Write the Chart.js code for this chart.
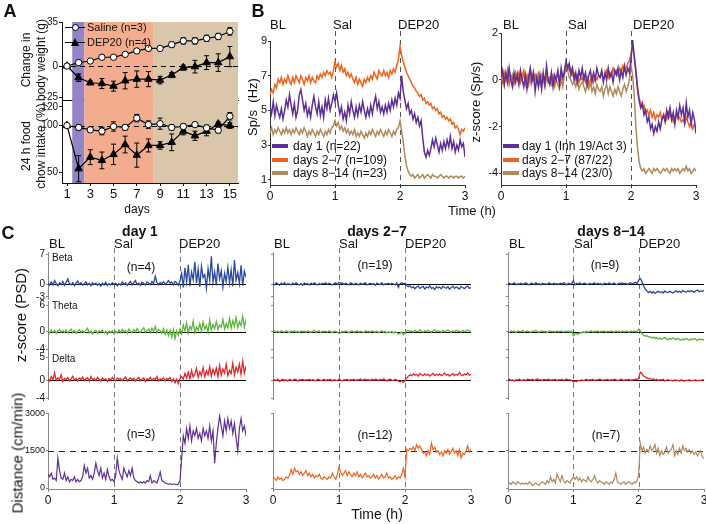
<!DOCTYPE html>
<html><head><meta charset="utf-8">
<script src="https://cdn.jsdelivr.net/npm/chart.js@4.4.1/dist/chart.umd.min.js"></script>
<style>
html,body{margin:0;padding:0;background:#fff;}
#fig{position:relative;width:706px;height:524px;overflow:hidden;font-family:'Liberation Sans',Arial,sans-serif;color:#111;}
#fig canvas{position:absolute;left:0;top:0;}
.t{position:absolute;white-space:pre;line-height:1;}
.sw{position:absolute;}
</style></head><body><div id="fig"></div>
<script>
// ===================== DATA =====================
// Panel A
const days = [1,2,3,4,5,6,7,8,9,10,11,12,13,14,15];
const salineBW    = [0,2.7,4,7,7,9.3,12,14,14,17,20,20,22,23.5,27.5];
const salineBWErr = [0,1,1,1,1,1,1.5,1.5,1.5,2,2.5,2.5,2.5,2.5,3];
const depBW       = [0,-9.3,-13.3,-13.9,-16,-11.7,-10.4,-10.4,-11.2,-7.2,-1.3,-0.5,2.7,2.7,7.5];
const depBWErr    = [0,3,1.5,4,4,6.5,6.5,6,3,2,2,5,5.5,7,8];
const salineFood    = [100,98,95.4,94,99,98,108,101,102,98,99,101,97.5,95,110];
const salineFoodErr = [0,3,2,4,5,3,4,4,6,3,3,2,3,3,4];
const depFood       = [100,53.6,66,62.5,69,79.6,68.2,78.6,78.6,82,94,89,94,101.8,100];
const depFoodErr    = [0,14,8,9,11,9,13,7,4,9,4,5,5,2,3];
const phaseFrom   = [1.45, 2.5, 8.4];
const phaseTo     = [2.5, 8.4, 15.7];
const phaseColors = ['#9484c6','#f4ac8e','#d9c6ab'];
const aTopTicks = [-25,0,35];
const aBotTicks = [50,100,120];
const aDayTicks = [1,3,5,7,9,11,13,15];

// Time grid (hours) shared by traces: one sample every 1.5 min
const STEP = 0.025;
const hourTicks = [0,1,2,3];
const eventTimes = [1,2];
const eventNames = ['BL','Sal','DEP20'];

// Panel B left: firing rate (Hz)
const bRateDay1 = [5.2,4.8,5.5,4.7,5.3,4.9,4.6,5.1,4.5,5.0,
 5.6,5.2,5.9,5.3,4.8,5.4,4.6,5.0,5.9,6.2,
 5.6,5.0,5.4,4.7,5.1,4.6,5.3,5.8,5.2,4.8,
 5.5,4.7,5.2,4.6,5.6,5.1,5.7,5.0,5.4,5.9,
 5.5,6.0,5.3,4.8,5.2,4.5,4.9,4.4,5.3,4.8,
 5.5,5.0,4.6,5.2,4.7,5.3,4.9,5.5,5.0,4.6,
 5.1,4.7,5.3,4.8,5.4,5.8,5.1,5.5,4.9,5.2,
 4.8,5.3,4.9,5.4,5.0,5.6,5.2,5.7,5.3,6.0,
 5.7,7.0,6.1,5.6,5.1,5.4,4.8,5.0,4.5,4.8,
 4.3,4.6,4.1,4.4,3.4,2.6,2.3,2.7,2.4,2.8,
 3.3,2.9,3.4,3.0,2.6,3.1,2.7,3.2,2.8,3.3,
 2.9,3.5,2.8,3.2,2.6,3.0,2.7,3.3,2.9,3.1,
 2.3];
const bRateD27 = [5.9,6.2,6.0,6.5,6.3,6.8,6.6,6.9,6.5,6.8,
 6.6,7.0,6.7,6.5,6.9,6.6,7.0,6.8,6.6,7.0,
 6.8,6.5,6.9,6.7,7.0,6.6,6.9,6.7,6.6,7.0,
 6.8,7.1,6.9,7.2,7.0,7.3,7.1,7.2,6.9,7.3,
 7.8,7.5,7.7,7.3,7.6,7.2,7.4,7.0,7.2,6.9,
 7.1,6.8,6.6,6.9,6.5,6.8,6.6,6.4,6.8,6.6,
 6.9,6.7,7.0,6.8,7.2,7.0,6.8,7.3,7.1,7.0,
 7.3,7.0,7.2,6.9,7.3,7.1,7.4,7.2,7.6,7.9,
 8.7,8.2,7.8,7.5,7.2,7.0,6.8,6.6,6.4,6.3,
 6.1,6.0,5.8,5.9,5.6,5.7,5.4,5.5,5.3,5.4,
 5.1,5.2,5.0,5.1,4.8,4.9,4.6,4.7,4.5,4.6,
 4.4,4.5,4.2,4.3,4.0,4.1,3.9,3.6,3.9,3.8,
 4.0];
const bRateD814 = [3.7,4.0,3.6,3.9,3.7,4.0,3.8,3.6,3.9,3.7,
 4.0,3.7,3.9,3.6,3.9,3.7,4.0,3.8,3.6,3.9,
 3.7,4.0,3.8,3.5,3.8,3.6,3.9,3.7,3.5,3.8,
 3.6,3.9,3.7,3.5,3.8,3.6,3.9,3.7,4.0,4.1,
 4.4,4.1,4.3,3.9,4.1,3.8,4.0,3.7,3.9,3.6,
 3.8,3.6,3.9,3.5,3.7,3.5,3.8,3.6,3.4,3.7,
 3.5,3.8,3.6,3.9,3.7,3.5,3.8,3.6,3.9,3.7,
 3.5,3.8,3.6,3.9,3.7,3.5,3.8,3.6,3.9,4.0,
 4.4,3.8,3.2,2.4,1.8,1.5,1.3,1.2,1.3,1.1,
 1.2,1.3,1.1,1.2,1.3,1.1,1.2,1.3,1.2,1.1,
 1.3,1.2,1.2,1.1,1.2,1.3,1.2,1.1,1.2,1.2,
 1.1,1.2,1.2,1.1,1.2,1.2,1.1,1.2,1.2,1.1,
 1.2];
const bRateTicks = [1,3,5,7,9];

// Panel B right: z-score
const bZDay1 = [0.1,0.4,-0.2,0.3,-0.1,0.5,0.0,-0.3,0.3,-0.1,0.2,
 -0.2,0.4,0.0,-0.3,0.2,-0.4,0.1,0.5,-0.1,0.3,
 -0.5,0.1,-0.3,0.2,-0.4,0.3,-0.2,0.6,0.0,-0.2,
 0.3,-0.3,0.2,0.0,0.4,-0.2,0.5,0.1,0.3,0.8,
 0.5,0.7,0.2,0.5,0.0,0.3,-0.1,0.4,0.1,0.5,
 0.0,0.3,-0.2,0.2,0.4,-0.1,0.3,0.0,0.5,0.2,
 0.1,0.4,-0.1,0.3,0.0,0.5,0.1,0.3,-0.1,0.4,
 0.2,0.5,0.0,0.4,0.1,0.6,0.2,0.5,0.3,0.9,
 1.7,1.0,0.4,-0.4,-0.9,-1.2,-1.0,-1.5,-1.3,-1.8,
 -1.6,-2.1,-1.9,-2.3,-2.0,-2.2,-1.8,-2.1,-1.7,-1.5,
 -1.8,-1.3,-1.6,-1.2,-1.7,-1.4,-1.9,-1.3,-1.6,-1.1,
 -1.5,-1.2,-1.8,-1.0,-1.6,-1.3,-1.9,-1.4,-1.7,-2.3];
const bZD27 = [0.2,-0.1,0.3,0.0,0.4,-0.2,0.2,0.1,-0.1,0.3,0.0,
 0.3,-0.1,0.2,0.4,0.0,0.2,-0.2,0.3,0.1,0.0,
 0.2,-0.1,0.3,0.1,-0.2,0.2,0.0,0.3,-0.1,0.1,
 0.0,0.2,-0.2,0.1,0.3,-0.1,0.2,0.0,0.4,0.7,
 0.6,0.4,0.5,0.2,0.3,0.0,0.2,-0.1,0.1,0.0,
 0.2,-0.1,0.1,-0.2,0.0,0.2,-0.1,0.1,0.0,0.2,
 0.1,0.3,0.0,0.2,0.4,0.1,0.3,0.2,0.5,0.3,
 0.4,0.2,0.5,0.3,0.6,0.4,0.5,0.7,0.8,1.1,
 1.4,1.0,0.3,-0.3,-0.8,-1.0,-1.2,-1.1,-1.4,-1.3,
 -1.5,-1.3,-1.6,-1.4,-1.7,-1.5,-1.6,-1.4,-1.7,-1.6,
 -1.5,-1.7,-1.4,-1.6,-1.5,-1.8,-1.6,-1.5,-1.7,-1.6,
 -1.8,-1.7,-1.9,-1.6,-1.8,-2.0,-1.8,-2.1,-1.9,-2.0];
const bZD814 = [0.0,0.3,-0.2,0.2,-0.1,0.4,0.0,0.2,-0.2,0.1,0.3,
 -0.1,0.2,0.0,0.3,-0.2,0.1,0.2,-0.1,0.3,0.0,
 0.2,-0.1,0.1,-0.2,0.2,0.0,-0.3,0.1,-0.1,0.0,
 -0.2,0.1,-0.3,0.0,-0.2,-0.4,0.0,-0.3,0.2,0.7,
 0.4,0.1,0.0,-0.2,-0.1,-0.3,0.0,-0.4,-0.2,-0.1,
 -0.3,-0.5,-0.2,-0.4,-0.1,-0.5,-0.3,-0.6,-0.2,-0.4,
 -0.5,-0.3,-0.7,-0.4,-0.2,-0.6,-0.3,-0.5,-0.7,-0.4,
 -0.6,-0.3,-0.5,-0.7,-0.4,-0.2,-0.5,-0.3,0.0,0.6,
 0.2,-0.7,-2.0,-2.9,-3.5,-3.8,-3.9,-3.8,-4.0,-3.9,
 -3.8,-3.9,-4.0,-3.8,-3.9,-3.8,-3.9,-4.0,-3.9,-3.8,
 -3.9,-3.8,-3.9,-4.0,-3.8,-3.9,-3.8,-3.9,-3.8,-4.0,
 -3.9,-3.8,-3.9,-3.7,-3.9,-3.8,-4.0,-3.9,-3.8,-3.9];
const bZTicks = [-4,-2,0,2];

// Panel C: LFP power z-scores
const c1Beta = [0.2,-0.3,0.5,-0.2,0.8,0.1,-0.4,0.3,-0.1,0.6,-0.3,
 0.4,1.2,0.1,-0.2,0.3,-0.4,0.2,0.7,-0.1,0.3,
 -0.3,0.1,0.5,-0.2,0.2,-0.4,0.3,-0.1,0.2,-0.3,
 0.1,-0.5,0.2,-0.2,0.4,-0.3,0.1,-0.2,0.3,-0.1,
 0.2,-0.4,0.1,-0.2,0.5,-0.1,0.3,-0.3,0.2,0.6,
 -0.2,0.3,0.8,-0.1,0.2,-0.3,0.4,0.1,-0.2,0.5,
 0.2,-0.1,0.6,0.1,1.8,0.3,-0.2,0.4,0.1,0.5,
 -0.1,0.3,0.8,0.2,0.5,-0.2,0.6,0.3,-0.3,0.7,
 2.5,-0.8,3.8,0.5,4.5,-0.5,2.8,1.0,5.2,0.2,
 3.5,-0.6,4.2,1.5,2.2,-1.0,3.6,0.8,6.5,0.4,
 2.9,-0.3,4.8,1.2,3.1,-0.7,2.5,0.6,4.0,0.3,
 3.3,-0.5,5.6,0.9,2.7,0.1,4.4,-0.4,3.0,1.6];
const c1Theta = [0.1,-0.3,0.4,-0.2,0.3,-0.4,0.2,0.5,-0.1,0.3,-0.2,
 0.4,-0.3,0.2,0.6,-0.2,0.3,-0.4,0.1,0.5,-0.1,
 0.3,-0.2,0.4,0.8,-0.3,0.2,-0.5,0.1,0.3,-0.4,
 0.2,-0.1,0.4,-0.3,0.1,-0.6,0.2,-0.2,0.3,-0.5,
 0.1,-0.3,0.4,-0.2,0.5,-0.1,0.3,-0.4,0.6,0.1,
 -0.3,0.5,-0.1,0.7,0.2,-0.2,0.4,0.9,-0.1,0.3,
 0.6,-0.2,0.8,0.1,1.2,-0.3,0.5,0.2,-0.4,0.7,
 -0.6,0.4,-0.9,0.3,-1.2,0.5,-1.5,0.2,-0.8,0.6,
 -0.5,1.5,0.2,2.0,-0.3,1.2,0.5,2.4,-0.2,1.0,
 0.3,1.8,0.1,2.2,0.6,1.4,-0.1,2.6,0.4,1.6,
 0.7,2.3,0.5,1.5,1.0,2.8,0.6,1.9,0.9,3.0,
 0.8,2.5,1.2,3.2,0.9,2.2,1.4,3.5,1.0,2.8];
const c1Delta = [0.3,-0.2,0.8,0.1,1.6,-0.1,0.5,0.2,1.2,-0.3,0.4,
 0.1,0.6,-0.2,0.3,0.9,0.0,0.4,-0.2,0.5,0.2,
 0.7,-0.1,0.3,0.5,-0.2,0.8,0.1,0.4,-0.1,0.6,
 0.2,-0.2,0.5,0.1,0.3,-0.3,0.4,0.0,0.6,0.1,
 -0.2,0.5,0.2,0.4,-0.1,0.3,0.7,-0.2,0.2,0.5,
 0.0,0.4,-0.2,0.3,0.6,-0.1,0.2,0.5,-0.3,0.3,
 0.1,0.6,-0.1,0.4,0.2,0.8,-0.2,0.3,0.1,0.5,
 -0.2,0.4,0.1,0.6,-0.3,0.3,-0.6,0.2,-0.8,0.4,
 0.8,0.2,1.5,0.5,1.8,0.3,2.2,0.7,1.4,2.6,
 0.6,1.9,1.0,2.8,0.8,2.1,1.2,3.0,0.9,2.4,
 1.3,2.7,0.8,3.3,1.1,2.5,1.6,3.5,1.0,2.2,
 1.5,3.8,1.2,2.9,1.8,3.6,1.3,4.2,1.6,3.1];
const c2Beta = [0.1,-0.2,0.3,0.0,-0.3,0.2,-0.1,0.3,-0.2,0.1,0.0,
 -0.2,0.2,-0.1,0.3,0.0,-0.2,0.1,-0.3,0.2,0.0,
 0.1,-0.2,0.2,-0.1,0.3,0.0,-0.2,0.1,-0.1,0.2,
 0.0,0.3,-0.1,0.2,0.0,-0.2,0.1,0.3,-0.1,0.4,
 0.1,0.3,-0.1,0.2,0.0,-0.2,0.3,0.1,-0.2,0.2,
 0.0,-0.2,0.2,-0.1,0.1,0.3,-0.2,0.0,0.2,-0.1,
 0.1,-0.3,0.2,0.0,-0.1,0.3,-0.2,0.1,0.0,0.2,
 -0.1,0.2,0.0,-0.2,0.3,-0.8,0.1,0.3,0.0,0.2,
 -0.3,-0.6,-0.4,-0.9,-0.6,-1.1,-0.7,-0.5,-1.0,-0.8,
 -0.5,-1.2,-0.7,-0.9,-0.4,-1.0,-0.8,-1.3,-0.6,-0.9,
 -0.7,-1.1,-0.5,-0.8,-1.0,-0.6,-1.2,-0.8,-0.5,-1.0,
 -0.7,-0.9,-1.2,-0.6,-0.8,-1.1,-0.7,-0.5,-1.0,-0.8];
const c2Theta = [0.0,0.2,-0.1,0.1,-0.2,0.2,0.0,-0.1,0.2,0.0,-0.2,
 0.1,0.0,0.2,-0.1,0.1,-0.2,0.2,0.0,0.1,-0.1,
 0.2,0.0,-0.1,0.1,0.3,-0.1,0.0,0.2,-0.2,0.1,
 0.0,0.1,-0.1,0.2,0.0,-0.2,0.1,0.0,-0.1,-0.4,
 -0.2,0.1,-0.1,0.2,0.0,-0.2,0.1,0.2,-0.1,0.0,
 0.2,-0.1,0.1,0.0,-0.2,0.2,0.0,0.1,-0.1,0.2,
 0.0,-0.1,0.1,-0.2,0.0,0.2,-0.1,0.1,-0.3,0.0,
 -0.2,0.1,-0.3,0.0,-0.2,-0.5,-0.3,-0.1,-0.6,-0.2,
 0.1,0.3,0.0,0.2,-0.1,0.3,0.1,0.0,0.4,0.1,
 -0.1,0.2,0.0,0.3,0.1,-0.1,0.2,0.4,0.0,0.2,
 0.1,-0.1,0.3,0.0,0.2,0.4,0.1,-0.1,0.2,0.0,
 0.3,0.1,0.2,-0.1,0.3,0.0,0.2,0.4,0.1,0.2];
const c2Delta = [-0.2,0.1,-0.1,0.2,-0.3,0.0,0.2,-0.1,0.1,-0.2,0.2,
 0.0,-0.1,0.2,0.1,-0.2,0.1,0.0,0.2,-0.1,0.1,
 0.0,0.2,-0.1,0.1,0.0,-0.2,0.2,0.1,-0.1,0.0,
 0.2,-0.1,0.1,0.0,0.2,-0.2,0.1,0.0,-0.1,0.2,
 0.0,-0.2,0.1,0.0,0.2,-0.1,0.1,0.0,0.2,-0.1,
 0.1,0.0,0.3,-0.1,0.1,0.2,0.0,0.1,-0.1,0.2,
 0.0,0.2,0.1,-0.1,0.2,0.0,0.3,0.1,-0.2,0.1,
 0.2,0.0,-0.1,0.2,0.0,-0.2,-0.4,-0.1,-0.5,-0.2,
 0.4,0.9,1.2,1.0,1.4,1.1,1.3,0.9,1.5,1.2,
 1.0,1.4,1.1,1.3,0.9,1.2,1.5,1.0,1.3,1.1,
 1.4,1.0,1.2,1.6,1.1,1.3,0.9,1.2,1.5,1.0,
 1.3,1.1,1.7,1.2,1.0,1.4,1.2,1.6,1.1,1.3];
const c3Beta = [0.0,0.2,-0.1,0.1,0.3,-0.2,0.1,0.0,0.2,-0.1,0.1,
 0.3,0.0,-0.2,0.2,0.1,-0.1,0.3,0.0,0.1,-0.2,
 0.2,0.0,0.1,-0.1,0.3,0.1,-0.1,0.2,0.0,0.1,
 -0.1,0.2,0.0,0.3,0.1,-0.2,0.2,0.0,0.1,0.8,
 -0.2,0.2,0.0,0.3,-0.1,0.1,0.2,0.0,-0.1,0.2,
 0.0,0.1,0.3,-0.1,0.2,0.0,0.1,-0.2,0.2,0.1,
 0.0,0.3,-0.1,0.1,0.2,0.0,-0.1,0.2,0.1,0.3,
 0.0,0.2,-0.1,0.1,0.3,0.0,0.2,0.4,0.1,0.9,
 1.3,0.6,-0.4,-1.2,-1.6,-2.0,-1.7,-2.1,-1.8,-2.2,
 -1.9,-1.7,-2.0,-1.8,-2.1,-1.6,-1.9,-2.0,-1.7,-1.9,
 -2.1,-1.8,-1.6,-1.9,-1.7,-2.0,-1.5,-1.8,-1.9,-1.6,
 -1.8,-1.5,-1.7,-1.9,-1.6,-1.4,-1.8,-1.6,-1.7,-1.5];
const c3Theta = [0.1,-0.1,0.2,0.0,0.1,-0.2,0.2,0.1,0.0,0.3,-0.1,
 0.1,0.2,0.0,-0.1,0.2,0.1,0.3,0.0,-0.1,0.1,
 0.2,0.0,0.1,-0.2,0.1,0.2,0.0,0.1,-0.1,0.2,
 0.0,0.1,0.2,-0.1,0.1,0.0,0.2,-0.1,0.1,-0.9,
 -0.6,-0.4,-0.5,-0.2,-0.3,0.0,-0.2,0.1,-0.1,0.0,
 0.2,-0.1,0.1,0.0,0.2,-0.1,0.1,0.0,0.2,-0.1,
 0.1,0.0,0.2,0.1,-0.1,0.2,0.0,0.1,-0.1,0.2,
 0.0,0.1,0.2,-0.1,0.1,0.0,0.2,0.1,0.0,0.6,
 0.3,-0.4,-0.8,-1.0,-0.9,-1.2,-1.1,-1.4,-1.2,-1.5,
 -1.3,-1.6,-1.4,-1.7,-1.5,-1.3,-1.6,-1.8,-1.5,-1.7,
 -1.4,-1.6,-1.8,-1.5,-1.7,-1.9,-1.6,-1.8,-1.5,-1.7,
 -1.9,-1.6,-1.8,-1.5,-1.7,-2.0,-1.6,-1.8,-1.7,-1.9];
const c3Delta = [0.0,0.2,-0.1,0.1,-0.2,0.1,0.0,0.2,-0.1,0.0,0.1,
 -0.1,0.2,0.1,0.0,0.2,-0.1,0.1,0.3,0.0,0.1,
 -0.1,0.2,0.0,0.1,0.2,-0.1,0.1,0.0,0.2,-0.1,
 0.1,0.0,0.2,-0.1,0.1,0.2,0.0,0.1,-0.1,-0.4,
 -0.2,-0.3,0.0,-0.2,0.1,-0.1,0.0,0.2,-0.1,0.1,
 0.0,0.2,-0.1,0.1,0.0,0.2,0.1,-0.1,0.1,0.0,
 0.2,-0.1,0.1,0.0,0.2,0.1,-0.1,0.0,0.2,0.1,
 -0.1,0.1,0.0,0.2,-0.1,0.1,0.0,0.2,0.1,0.5,
 1.8,1.5,0.9,0.7,0.5,0.3,0.4,0.1,0.3,0.0,
 0.2,-0.1,0.1,0.0,0.2,-0.2,0.0,0.1,-0.1,0.0,
 -0.2,0.1,-0.1,0.0,-0.2,0.1,-0.1,-0.2,0.0,-0.1,
 0.1,-0.2,0.0,-0.1,0.1,-0.2,0.0,-0.1,0.1,0.0];
const betaTicks = [-3,0,7], thetaTicks = [-4,0,6], deltaTicks = [-4,0,5];

// Panel C: distance travelled (cm/min)
const c1Dist = [550,450,600,350,400,300,1200,700,400,350,600,
 300,450,250,350,300,450,250,350,250,300,
 450,900,600,800,400,500,350,600,1000,700,
 500,800,400,600,350,750,450,300,350,250,
 500,1200,700,500,350,800,600,450,700,500,
 800,400,300,250,200,250,200,250,200,300,
 250,500,200,300,250,200,400,650,300,250,
 200,180,150,170,150,160,150,140,160,300,
 1200,2100,1800,2400,2000,2500,1900,2300,2100,2400,
 2000,2200,1900,2400,2100,2300,2000,2500,1900,2300,
 1000,1800,2400,2900,2500,2100,2700,2300,2800,2400,
 2700,2200,2600,2000,1500,2400,2800,2300,2500,2100];
const c2Dist = [350,400,300,450,350,400,300,350,450,400,500,
 750,550,800,650,700,550,650,500,600,700,
 500,600,450,550,400,500,450,550,400,350,
 450,400,350,450,400,600,450,350,550,850,
 650,500,600,700,500,650,550,450,600,500,
 650,450,550,400,500,600,450,500,400,450,
 550,400,500,350,450,550,400,450,600,400,
 450,350,400,500,350,450,400,550,800,450,
 1550,1500,1600,1550,1650,1500,1750,1600,1700,1550,
 1400,1450,1300,1500,1350,1800,1550,1650,1450,1500,
 1350,1450,1300,1500,1400,1550,1350,1450,1600,1400,
 1500,1300,1550,1200,1400,1350,1500,1700,1450,1550];
const c3Dist = [100,200,150,250,200,150,250,200,150,200,150,
 200,150,250,200,100,150,200,150,100,200,
 250,200,150,300,200,450,250,350,200,550,
 400,250,500,300,200,300,250,200,350,450,
 350,450,300,400,250,350,300,250,450,300,
 250,350,500,300,200,300,250,200,150,250,
 200,150,250,200,350,600,250,200,150,200,
 250,150,200,250,200,150,250,200,300,550,
 1800,1500,1650,1400,1550,1450,1700,1500,1600,1750,
 1400,1600,1300,1500,1350,1450,1650,1400,1500,1550,
 1750,1300,1500,1350,1600,1400,1700,1500,1600,1450,
 1550,1400,1500,1350,1450,1300,1400,1500,1250,1200];
const distTicks = [0,1500,3000];
const distRef = 1500;

// ===================== DRAWING =====================
Chart.defaults.font.family = "'Liberation Sans', Arial, sans-serif";
Chart.defaults.color = '#111';
const fig = document.getElementById('fig');
const W = 706, H = 524;

const deco = {
  id: 'deco',
  beforeDraw(chart, args, o) {
    const {ctx, chartArea: a, scales: {x}} = chart;
    (o.bands || []).forEach(b => {
      const x0 = Math.max(a.left, x.getPixelForValue(b.from));
      const x1 = Math.min(a.right, x.getPixelForValue(b.to));
      ctx.save(); ctx.fillStyle = b.color; ctx.fillRect(x0, a.top, x1 - x0, a.bottom - a.top); ctx.restore();
    });
  },
  beforeDatasetsDraw(chart, args, o) {
    const {ctx, chartArea: a, scales: {x, y}} = chart;
    ctx.save();
    (o.hlines || []).forEach(h => {
      const py = Math.round(y.getPixelForValue(h.value)) + 0.5;
      ctx.beginPath(); ctx.setLineDash(h.dash || []); ctx.strokeStyle = h.color; ctx.lineWidth = h.width || 1;
      ctx.moveTo(a.left, py); ctx.lineTo(h.toEdge ? chart.width : a.right, py); ctx.stroke();
    });
    (o.vlines || []).forEach(v => {
      const px = Math.round(x.getPixelForValue(v.value)) + 0.5;
      ctx.beginPath(); ctx.setLineDash(v.dash || []); ctx.strokeStyle = v.color; ctx.lineWidth = v.width || 1;
      ctx.moveTo(px, v.top != null ? v.top : a.top); ctx.lineTo(px, a.bottom); ctx.stroke();
    });
    ctx.setLineDash([]);
    chart.data.datasets.forEach(ds => {
      if (!ds.errors) return;
      ds.data.forEach((d, j) => {
        const e = ds.errors[j]; if (!e) return;
        const px = x.getPixelForValue(d.x), y0 = y.getPixelForValue(d.y - e), y1 = y.getPixelForValue(d.y + e);
        ctx.beginPath(); ctx.strokeStyle = '#000'; ctx.lineWidth = 1;
        ctx.moveTo(px, y0); ctx.lineTo(px, y1);
        ctx.moveTo(px - 2.5, y0); ctx.lineTo(px + 2.5, y0);
        ctx.moveTo(px - 2.5, y1); ctx.lineTo(px + 2.5, y1);
        ctx.stroke();
      });
    });
    ctx.restore();
  }
};
Chart.register(deco);

function mk(o) {
  const c = document.createElement('canvas'); c.width = W; c.height = H; fig.appendChild(c);
  const Wy = 40, Hx = o.xLabels ? 24 : 0;
  const ac = o.axisColor || '#222';
  return new Chart(c, {
    type: 'line',
    data: {datasets: o.datasets},
    options: {
      responsive: false, animation: false, devicePixelRatio: 1, events: [],
      layout: {padding: {left: o.area.l - Wy, right: W - o.area.r, top: o.area.t, bottom: H - o.area.b - Hx}},
      elements: {line: {tension: 0}, point: {radius: 0}},
      plugins: {legend: {display: false}, tooltip: {enabled: false}, deco: o.deco || {}},
      scales: {
        x: {type: 'linear', min: o.xr[0], max: o.xr[1], display: o.xAxis !== false,
          border: {display: true, color: ac, width: 1},
          grid: {display: true, drawOnChartArea: false, drawTicks: !!o.xLabels, tickLength: 3, color: ac},
          ticks: {display: !!o.xLabels, font: {size: o.xFont || 12}, color: '#111', padding: 1, maxRotation: 0, autoSkip: false, callback: v => String(v)},
          afterBuildTicks: s => { s.ticks = (o.xTicks || []).map(v => ({value: v})); },
          afterFit: s => { s.height = Hx; s.paddingLeft = 0; s.paddingRight = 0; }},
        y: {type: 'linear', min: o.yr[0], max: o.yr[1],
          border: {display: true, color: ac, width: 1},
          grid: {display: true, drawOnChartArea: false, drawTicks: true, tickLength: o.tl || 3, color: ac},
          ticks: {display: o.yLabels !== false, font: {size: o.yFont || 11}, color: '#111', padding: 1, autoSkip: false, callback: v => String(v)},
          afterBuildTicks: s => { s.ticks = o.yTicks.map(v => ({value: v})); },
          afterFit: s => { s.width = Wy; s.paddingTop = 0; s.paddingBottom = 0; }}
      }
    }
  });
}

const xy = (xs, ys) => ys.map((v, i) => ({x: xs[i], y: v}));
const tx = arr => arr.map((v, i) => ({x: +(i * STEP).toFixed(3), y: v}));
const trace = (arr, color, w) => ({data: tx(arr), borderColor: color, borderWidth: w || 1, pointRadius: 0, fill: false});

// ---- Panel A ----
const phaseBands = phaseFrom.map((f, i) => ({from: f, to: phaseTo[i], color: phaseColors[i]}));
const salineDs = (vals, err) => ({data: xy(days, vals), errors: err, borderColor: '#000', borderWidth: 1.2,
  pointStyle: 'circle', pointRadius: 3.2, pointBackgroundColor: '#fff', pointBorderColor: '#000', pointBorderWidth: 1});
const depDs = (vals, err) => ({data: xy(days, vals), errors: err, borderColor: '#000', borderWidth: 1.2,
  pointStyle: 'triangle', pointRadius: 4.3, pointBackgroundColor: '#000', pointBorderColor: '#000', pointBorderWidth: 1});
mk({area: {l: 62, r: 238, t: 22, b: 100}, xr: [0.57, 15.7], yr: [-27, 35], yTicks: aTopTicks, yFont: 10,
  axisColor: '#111', xTicks: [],
  datasets: [salineDs(salineBW, salineBWErr), depDs(depBW, depBWErr)],
  deco: {bands: phaseBands, hlines: [{value: 0, color: '#000', dash: [5, 4]}]}});
mk({area: {l: 62, r: 238, t: 100, b: 183}, xr: [0.57, 15.7], yr: [38.2, 127.5], yTicks: aBotTicks, yFont: 10,
  axisColor: '#111', xTicks: aDayTicks, xLabels: true, xFont: 13,
  datasets: [salineDs(salineFood, salineFoodErr), depDs(depFood, depFoodErr)],
  deco: {bands: phaseBands, hlines: [{value: 100, color: '#000', dash: [5, 4]}]}});

// ---- Panel B ----
const COL = {d1: '#5e2f96', d27: '#f0641f', d814: '#b08a5c'};
const evLines = (top, color) => eventTimes.map(t => ({value: t, top: top, color: color, dash: [5, 4]}));
mk({area: {l: 270, r: 465, t: 41, b: 185}, xr: [0, 3], yr: [0.7, 9], yTicks: bRateTicks, yFont: 11,
  axisColor: '#333', xTicks: hourTicks, xLabels: true, xFont: 12, tl: 2,
  datasets: [trace(bRateDay1, COL.d1, 1.5), trace(bRateD27, COL.d27, 1.5), trace(bRateD814, COL.d814, 1.5)],
  deco: {vlines: evLines(31, '#555')}});
mk({area: {l: 501, r: 696, t: 33, b: 185}, xr: [0, 3], yr: [-4.5, 2], yTicks: bZTicks, yFont: 11,
  axisColor: '#333', xTicks: hourTicks, xLabels: true, xFont: 12, tl: 2,
  datasets: [trace(bZDay1, COL.d1, 1.5), trace(bZD27, COL.d27, 1.5), trace(bZD814, COL.d814, 1.5)],
  deco: {vlines: evLines(31, '#555')}});

// ---- Panel C ----
const cCols = [
  {l: 48, r: 246, beta: c1Beta, theta: c1Theta, delta: c1Delta, dist: c1Dist, dcol: COL.d1, labels: true},
  {l: 273, r: 471, beta: c2Beta, theta: c2Theta, delta: c2Delta, dist: c2Dist, dcol: COL.d27, labels: false},
  {l: 508, r: 704, beta: c3Beta, theta: c3Theta, delta: c3Delta, dist: c3Dist, dcol: COL.d814, labels: false}
];
const GREY = '#888';
cCols.forEach((c, k) => {
  const hl = [{value: distRef, color: '#222', dash: [6, 5], toEdge: k === 0}];
  mk({area: {l: c.l, r: c.r, t: 413, b: 489}, xr: [0, 3], yr: [-40, 3020], yTicks: distTicks, yFont: 9,
    yLabels: c.labels, axisColor: GREY, xTicks: hourTicks, xLabels: true, xFont: 12, tl: 2,
    datasets: [trace(c.dist, c.dcol, 1.2)],
    deco: {hlines: k === 0 ? hl : [], vlines: evLines(248, '#777')}});
});
const bandDefs = [
  {key: 'beta', t: 252, b: 299, yr: [-3.5, 7.5], ticks: betaTicks, color: '#2b48a0'},
  {key: 'theta', t: 301, b: 350, yr: [-4.1, 6.9], ticks: thetaTicks, color: '#5cb538'},
  {key: 'delta', t: 351, b: 399, yr: [-4.2, 6.5], ticks: deltaTicks, color: '#e2262a'}
];
cCols.forEach(c => {
  bandDefs.forEach(bd => {
    mk({area: {l: c.l, r: c.r, t: bd.t, b: bd.b}, xr: [0, 3], yr: bd.yr, yTicks: bd.ticks, yFont: 10,
      yLabels: c.labels, axisColor: GREY, xAxis: false, tl: 2,
      datasets: [trace(c[bd.key], bd.color, 1.3)],
      deco: {hlines: [{value: 0, color: '#000', width: 1}]}});
  });
});

// ===================== TEXT =====================
function T(txt, x, y, o) {
  o = o || {};
  const d = document.createElement('div'); d.className = 't'; d.textContent = txt;
  d.style.left = x + 'px'; d.style.top = y + 'px'; d.style.fontSize = (o.size || 12) + 'px';
  if (o.bold) d.style.fontWeight = 'bold';
  const ax = o.align === 'left' ? '0' : (o.align === 'right' ? '-100%' : '-50%');
  d.style.transform = 'translate(' + ax + ',-50%)' + (o.rot ? ' rotate(-90deg)' : '');
  fig.appendChild(d);
}
function box(css) { const d = document.createElement('div'); d.className = 'sw'; Object.assign(d.style, css); fig.appendChild(d); }

// Panel letters
T('A', 10, 11, {size: 18, bold: true});
T('B', 258, 11, {size: 18, bold: true});
T('C', 8, 233, {size: 18, bold: true});

// Panel A text
T('Change in', 26, 60, {size: 12, rot: true});
T('body weight (g)', 41, 60, {size: 12, rot: true});
T('24 h food', 26, 146, {size: 12, rot: true});
T('chow intake (%)', 41, 146, {size: 12, rot: true});
T('days', 137, 209, {size: 12});
box({left: '65px', top: '27px', width: '20px', height: '1px', background: '#000'});
box({left: '71.5px', top: '23.5px', width: '7px', height: '7px', border: '1px solid #000', borderRadius: '50%', background: '#fff', boxSizing: 'border-box'});
T('Saline (n=3)', 87, 27, {size: 11, align: 'left'});
box({left: '65px', top: '42px', width: '20px', height: '1px', background: '#000'});
box({left: '71px', top: '37.5px', width: '0', height: '0', borderLeft: '4.5px solid transparent', borderRight: '4.5px solid transparent', borderBottom: '8px solid #000'});
T('DEP20 (n=4)', 87, 42, {size: 11, align: 'left'});

// Panel B text
[[270, 333, 398], [503, 568, 633]].forEach(xs => xs.forEach((x, i) => T(eventNames[i], x, 24, {size: 13, align: 'left'})));
T('Sp/s  (Hz)', 252, 107, {size: 13, rot: true});
T('z-score (Sp/s)', 475, 102, {size: 13, rot: true});
T('Time (h)', 472, 210, {size: 13});
const bLeg = [['day 1 (n=22)', 'days 2\u22127 (n=109)', 'days 8\u221214 (n=23)'],
              ['day 1 (Inh 19/Act 3)', 'days 2\u22127 (87/22)', 'days 8\u221214 (23/0)']];
const legCols = [COL.d1, COL.d27, COL.d814], legY = [146, 160, 173];
[[272, 293], [503, 522]].forEach((p, j) => {
  legY.forEach((y, i) => {
    box({left: p[0] + 'px', top: (y - 2) + 'px', width: '16px', height: '4px', background: legCols[i]});
    T(bLeg[j][i], p[1], y, {size: 12, align: 'left'});
  });
});

// Panel C text
T('day 1', 140, 231, {size: 14, bold: true});
T('days 2\u22127', 377, 231, {size: 14, bold: true});
T('days 8\u221214', 611, 231, {size: 14, bold: true});
[[49, 114, 179], [274, 339, 405], [509, 574, 639]].forEach(xs => xs.forEach((x, i) => T(eventNames[i], x, 243, {size: 13, align: 'left'})));
T('(n=4)', 141, 267, {size: 12}); T('(n=19)', 375, 265, {size: 12}); T('(n=9)', 605, 265, {size: 12});
T('(n=3)', 141, 434, {size: 12}); T('(n=12)', 375, 435, {size: 12}); T('(n=7)', 606, 435, {size: 12});
T('Beta', 52, 258, {size: 10, align: 'left'});
T('Theta', 52, 306, {size: 10, align: 'left'});
T('Delta', 52, 359, {size: 10, align: 'left'});
T('z-score (PSD)', 20, 315, {size: 15, rot: true});
T('Distance (cm/min)', 17, 453, {size: 15, rot: true});
T('Time (h)', 377, 514, {size: 14});
</script></body></html>
